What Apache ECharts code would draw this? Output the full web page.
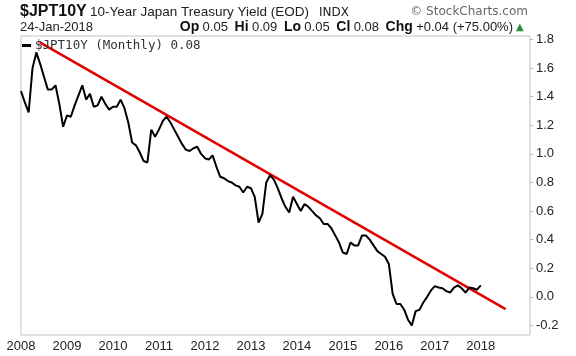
<!DOCTYPE html>
<html><head><meta charset="utf-8">
<script src="https://cdn.jsdelivr.net/npm/echarts@6/dist/echarts.min.js"></script>
<style>html,body{margin:0;padding:0;background:#fff}#c{width:576px;height:356px}</style>
</head><body><div id="c"></div>
<script>
// Monthly closes of $JPT10Y, Jan 2008 .. Jan 2018
const startYear = 2008;
const yields = [
  1.44, 1.36, 1.29, 1.60, 1.71, 1.63, 1.54, 1.45, 1.45, 1.48, 1.35, 1.19,
  1.27, 1.26, 1.34, 1.41, 1.48, 1.38, 1.42, 1.33, 1.34, 1.40, 1.35, 1.31,
  1.33, 1.33, 1.38, 1.32, 1.22, 1.08, 1.06, 1.01, 0.95, 0.94, 1.17, 1.12,
  1.17, 1.23, 1.26, 1.22, 1.17, 1.12, 1.07, 1.03, 1.02, 1.04, 1.05, 1.00,
  0.97, 0.96, 0.99, 0.91, 0.84, 0.83, 0.81, 0.80, 0.78, 0.77, 0.73, 0.77,
  0.76, 0.70, 0.52, 0.58, 0.80, 0.85, 0.82, 0.76, 0.69, 0.63, 0.59, 0.70,
  0.65, 0.60, 0.65, 0.63, 0.60, 0.57, 0.55, 0.51, 0.51, 0.48, 0.43, 0.38,
  0.31, 0.30, 0.38, 0.36, 0.36, 0.43, 0.43, 0.40, 0.36, 0.32, 0.30, 0.28,
  0.23, 0.02, -0.05, -0.05, -0.09, -0.16, -0.20, -0.10, -0.09, -0.04, 0.00, 0.045,
  0.075, 0.065, 0.06, 0.04, 0.03, 0.065, 0.08, 0.06, 0.03, 0.065, 0.06, 0.05,
  0.08
];
// Red trendline end points [year, yield]
const trendStart = [2008.41, 1.78];
const trendEnd = [2018.54, -0.086];
// Tick labels
const xTicks = [2008, 2009, 2010, 2011, 2012, 2013, 2014, 2015, 2016, 2017, 2018];
const yTicks = [-0.2, 0.0, 0.2, 0.4, 0.6, 0.8, 1.0, 1.2, 1.4, 1.6, 1.8];

const lineData = yields.map((v, i) => [startYear + i / 12, v]);
const trendData = [trendStart, trendEnd];

const chart = echarts.init(document.getElementById('c'), null, {renderer: 'canvas'});
const sans = 'Liberation Sans, Arial, sans-serif';
const dv = 'DejaVu Sans, sans-serif';
chart.setOption({
  animation: false,
  backgroundColor: '#ffffff',
  grid: {left: 21, right: 46, top: 36, bottom: 21, show: true, borderColor: '#c4c4c4', borderWidth: 1, backgroundColor: '#fff'},
  xAxis: {
    type: 'value', min: 2008, max: 2019.07,
    axisLine: {show: false}, axisTick: {show: false}, splitLine: {show: false},
    axisLabel: {customValues: xTicks, formatter: v => String(Math.round(v)), color: '#222', fontSize: 13, fontFamily: sans, margin: 5}
  },
  yAxis: {
    type: 'value', position: 'right', min: -0.267, max: 1.825,
    axisLine: {show: false}, splitLine: {show: false},
    axisTick: {show: true, customValues: yTicks, length: 3, lineStyle: {color: '#bbb'}},
    axisLabel: {customValues: yTicks, formatter: v => v.toFixed(1), color: '#222', fontSize: 13, fontFamily: sans, margin: 6}
  },
  series: [
    {type: 'line', data: trendData, showSymbol: false, lineStyle: {color: '#e00000', width: 2.5}, z: 2, silent: true},
    {type: 'line', data: lineData, showSymbol: false, lineStyle: {color: '#000', width: 2}, z: 3, silent: true}
  ],
  graphic: [
    {type: 'text', x: 20, y: 11.1, z: 10, style: {text: '$JPT10Y', verticalAlign: 'middle', font: 'bold 16px ' + sans, fill: '#111'}},
    {type: 'text', x: 90, y: 12.0, z: 10, style: {text: '10-Year Japan Treasury Yield (EOD)', verticalAlign: 'middle', font: '13.5px ' + sans, fill: '#222'}},
    {type: 'text', x: 319, y: 12.6, z: 10, style: {text: 'INDX', verticalAlign: 'middle', font: '12px ' + dv, fill: '#222'}},
    {type: 'text', x: 528, y: 12, z: 10, style: {text: '\u00a9 StockCharts.com', align: 'right', verticalAlign: 'middle', font: '12px ' + dv, fill: '#666'}},
    {type: 'text', x: 20, y: 27.2, z: 10, style: {text: '24-Jan-2018', verticalAlign: 'middle', font: '13px ' + sans, fill: '#222'}},
    {type: 'text', x: 513, y: 27, z: 10, style: {
      text: '{b|Op} {n|0.05}  {b|Hi} {n|0.09}  {b|Lo} {n|0.05}  {b|Cl} {n|0.08}  {b|Chg} {n|+0.04 (+75.00%)}',
      align: 'right', verticalAlign: 'middle',
      rich: {b: {font: 'bold 14px ' + sans, fill: '#111'}, n: {font: '13px ' + sans, fill: '#222'}}
    }},
    {type: 'text', x: 516, y: 27, z: 10, style: {text: '\u25b2', verticalAlign: 'middle', font: '10px ' + dv, fill: '#2e8b3a'}},
    {type: 'rect', z: 10, shape: {x: 22, y: 44, width: 9, height: 3}, style: {fill: '#000'}},
    {type: 'text', x: 35, y: 45.5, z: 10, style: {text: '$JPT10Y (Monthly) 0.08', verticalAlign: 'middle', font: '12.5px DejaVu Sans Mono, monospace', fill: '#333'}}
  ]
});
</script></body></html>
